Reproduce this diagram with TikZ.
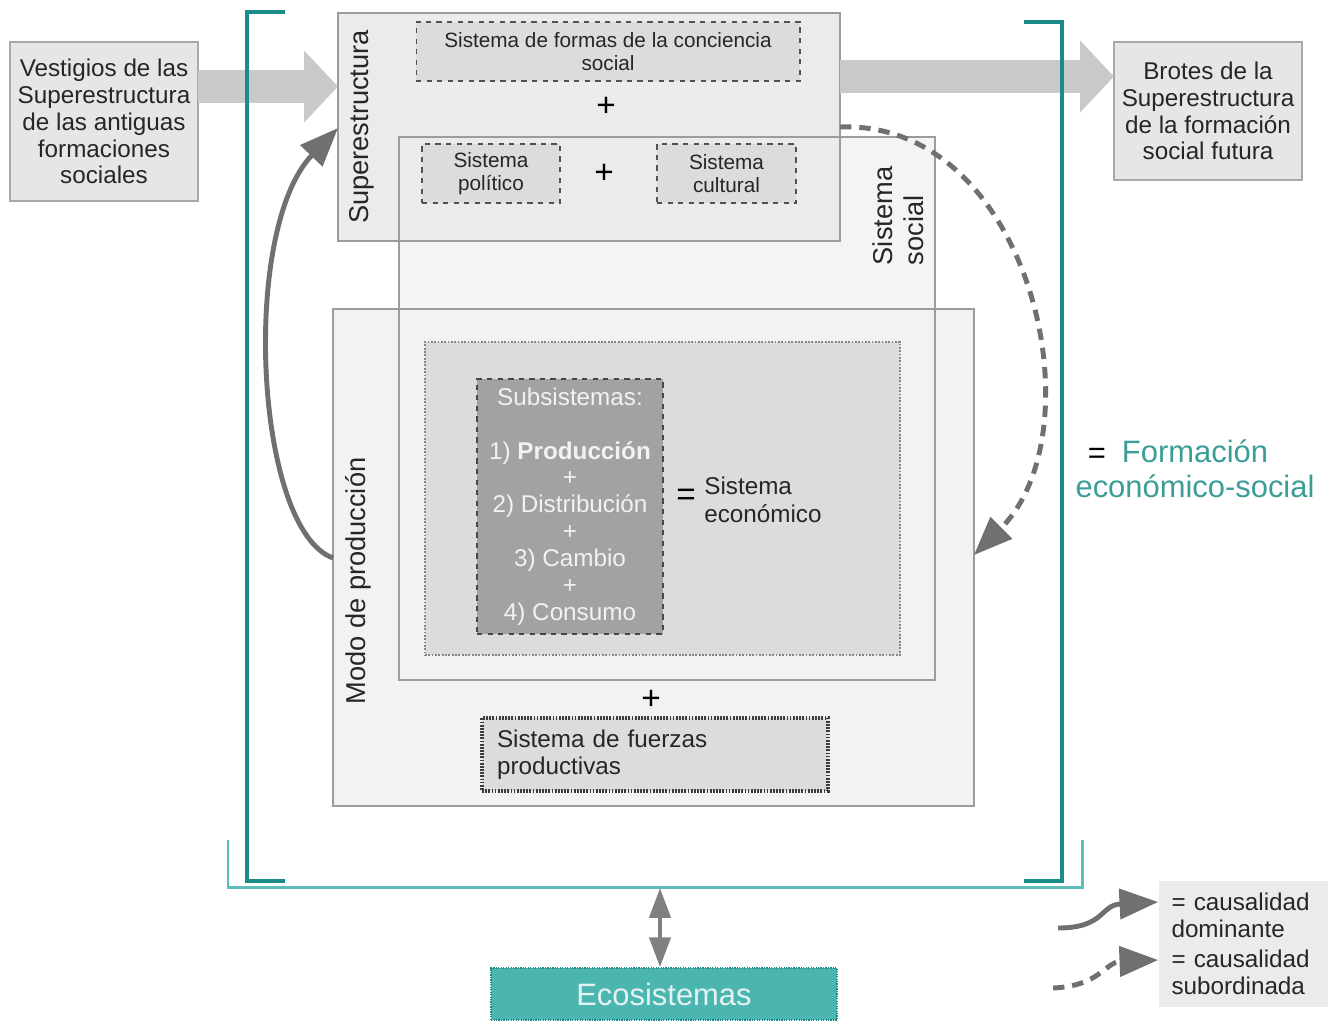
\documentclass[tikz,border=0pt]{standalone}
\usepackage{fontspec}
\setmainfont{Liberation Sans}
\usetikzlibrary{arrows.meta,positioning}

\definecolor{ink}{HTML}{262626}
\definecolor{sidefill}{HTML}{E6E6E6}
\definecolor{sideline}{HTML}{A8A8A8}
\definecolor{supfill}{HTML}{EBEBEB}
\definecolor{socfill}{HTML}{F4F4F4}
\definecolor{modofill}{HTML}{F2F2F2}
\definecolor{frameline}{HTML}{9C9C9C}
\definecolor{innerfill}{HTML}{DCDCDC}
\definecolor{subsfill}{HTML}{A2A2A2}
\definecolor{flowgrey}{HTML}{C9C9C9}
\definecolor{causal}{HTML}{707070}
\definecolor{tealdark}{HTML}{1C8C8A}
\definecolor{teallight}{HTML}{5DBDBA}
\definecolor{tealtext}{HTML}{3A9D96}
\definecolor{ecofill}{HTML}{4BB5AF}

\begin{document}
\begin{tikzpicture}[
  x=0.02cm, y=-0.02cm,
  text=ink,
  font=\fontsize{13.8}{15.3}\selectfont,
  boxside/.style={draw=sideline,fill=sidefill,line width=1.6pt,align=center,inner sep=0pt,outer sep=0pt},
  boxframe/.style={draw=frameline,line width=1.2pt,inner sep=0pt,outer sep=0pt},
  boxinner/.style={draw=ink!80,fill=innerfill,dashed,line width=0.6pt,align=center,inner sep=0pt,
    font=\fontsize{11.8}{13}\selectfont},
  rottitle/.style={rotate=90,align=left,inner sep=0pt,font=\fontsize{15.5}{17.5}\selectfont},
  plussign/.style={inner sep=0pt,text=black,font=\fontsize{19}{19}\selectfont},
  bigarrow/.style={-{Triangle[length=0.68cm,width=1.4cm]},line width=0.66cm,draw=flowgrey},
  domarrow/.style={-{Triangle[length=22pt,width=17pt]},line width=2.8pt,draw=causal},
  subarrow/.style={domarrow,dash pattern=on 6.5pt off 4.5pt},
  bracket/.style={draw=tealdark,line width=2.3pt},
  bracketout/.style={draw=teallight,line width=1.7pt}]

 \useasboundingbox (0,0) rectangle (1328,1021);

 % ---- flow from the past and to the future ----
 \node[boxside,minimum width=3.76cm,minimum height=3.18cm] (vest) at (104,121.5)
   {Vestigios de las\\Superestructura\\de las antiguas\\formaciones\\sociales};
 \node[boxside,minimum width=3.76cm,minimum height=2.76cm] (brotes) at (1208,111)
   {Brotes de la\\Superestructura\\de la formación\\social futura};

 % ---- nested systems ----
 \node[fill=socfill,minimum width=10.72cm,minimum height=10.86cm,inner sep=0pt,outer sep=0pt] (soc) at (667,408.5) {};
 \node[boxframe,fill=supfill,minimum width=10.04cm,minimum height=4.56cm] (sup) at (589,127) {};
 \node[boxframe,fill=modofill,minimum width=12.82cm,minimum height=9.94cm] (modo) at (653.5,557.5) {};
 \draw[boxframe] (soc.north west) rectangle (soc.south east);

 \draw[bigarrow] (vest.east |- 0,86.5) -- (sup.west |- 0,86.5);
 \draw[bigarrow] (sup.east |- 0,76.5) -- (brotes.west |- 0,76.5);

 \node[rottitle] (suptitle) at (362,127) {Superestructura};
 \node[rottitle] (soctitle) at (898,216) {Sistema\\social};
 \node[rottitle] (modotitle) at (358,581) {Modo de producción};

 % superstructure
 \node[boxinner,minimum width=7.68cm,minimum height=1.18cm] (formas) at (608,51.5)
   {Sistema de formas de la conciencia\\social};
 \node[plussign] (plus1) at (606,107) {+};
 \node[boxinner,minimum width=2.76cm,minimum height=1.18cm] (pol) at (491,173.5) {Sistema\\político};
 \node[plussign] (plus2) at (604,174) {+};
 \node[boxinner,minimum width=2.78cm,minimum height=1.18cm] (cult) at (726.5,173.5) {Sistema\\cultural};

 % economic system
 \node[draw=gray!95,fill=innerfill,line width=1.3pt,dash pattern=on 1pt off 0.9pt,
   minimum width=9.5cm,minimum height=6.26cm,inner sep=0pt] (econ) at (662.5,498.5) {};
 \node[draw=ink!85,fill=subsfill,dashed,line width=0.7pt,text=white!95!black,align=center,
   minimum width=3.72cm,minimum height=5.1cm,inner sep=0pt] (subs) at (570,506.5)
   {Subsistemas:\\[15.3pt]1) \textbf{Producción}\\+\\2) Distribución\\+\\3) Cambio\\+\\4) Consumo};
 \node[plussign] (eq1) at (686,497) {=};
 \node[anchor=west,align=left,inner sep=0pt,font=\fontsize{13.8}{16.2}\selectfont] (econtxt) at (704,500)
   {Sistema\\económico};

 \node[plussign] (plus3) at (651,700) {+};
 \node[draw=ink!90,fill=innerfill,line width=1.8pt,dash pattern=on 1pt off 0.8pt,align=left,
   text width=6.32cm,inner xsep=0.3cm,inner ysep=0pt,minimum height=1.46cm] (fuer) at (655,754.5)
   {Sistema de fuerzas\\productivas};

 % ---- social formation brackets ----
 \draw[bracket] (285,12) -- (247,12) -- (247,881) -- (285,881);
 \draw[bracket] (1024,22) -- (1062,22) -- (1062,881) -- (1024,881);
 \draw[bracketout] (228,840) -- (228,887) -- (1082,887) -- (1082,840);
 \node[plussign,font=\fontsize{17.6}{19.8}\selectfont] (eq2) at (1097,456) {=};
 \node[align=center,inner sep=0pt,text=tealtext,font=\fontsize{17.6}{19.8}\selectfont] (fes) at (1195,469)
   {Formación\\económico-social};

 % ---- causality ----
 \draw[domarrow] (modo.west |- 0,558) .. controls (255,530) and (240,230) .. (sup.west |- 0,128);
 \draw[subarrow] (sup.east |- 0,127) .. controls (1030,120) and (1100,430) .. (modo.east |- 0,555);

 % ---- environment ----
 \node[draw=tealdark,fill=ecofill,line width=1pt,dash pattern=on 0.7pt off 0.7pt,text=white!90!teal,
   minimum width=6.92cm,minimum height=1.04cm,inner sep=0pt,font=\fontsize{17.6}{19.8}\selectfont] (eco) at (664,994)
   {Ecosistemas};
 \coordinate (envtop) at (660,888);
 \draw[{Triangle[length=17pt,width=12pt]}-{Triangle[length=17pt,width=12pt]},line width=2.3pt,draw=gray]
   (envtop) -- (envtop |- eco.north);

 % ---- legend ----
 \node[fill=supfill,align=left,text width=2.9cm,inner xsep=0.26cm,inner ysep=0pt,minimum height=2.52cm] (legend) at (1244,944)
   {= causalidad\\dominante\\[2pt]= causalidad\\subordinada};
 \coordinate (domstart) at (1058,928);
 \coordinate (substart) at (1053,988);
 \draw[domarrow] (domstart) .. controls (1105,928) and (1100,905) .. (legend.west |- 0,902);
 \draw[subarrow] (substart) .. controls (1100,986) and (1105,962) .. (legend.west |- 0,960);
\end{tikzpicture}
\end{document}
